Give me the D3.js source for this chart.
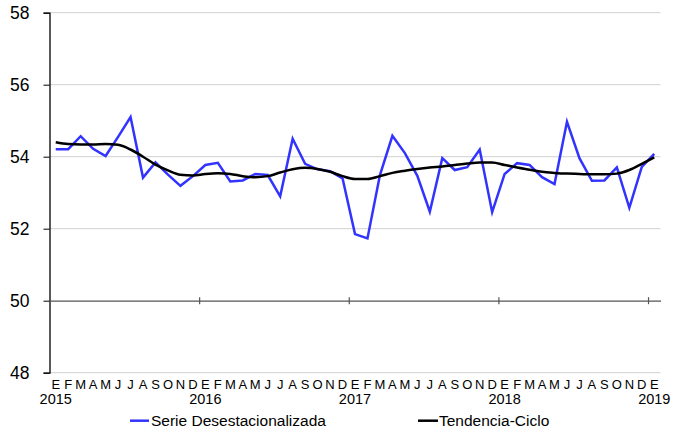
<!DOCTYPE html>
<html><head><meta charset="utf-8">
<script src="https://cdn.jsdelivr.net/npm/d3@7"></script>
<style>body{margin:0;background:#fff}svg{display:block}text{font-family:"Liberation Sans",Arial,sans-serif;fill:#000}</style>
</head><body><svg id="c" width="673" height="433"></svg>
<script>
const monthLetters = ["E","F","M","A","M","J","J","A","S","O","N","D"];
const years = [2015, 2016, 2017, 2018, 2019];
const yTicks = [48, 50, 52, 54, 56, 58];
const serieDesestacionalizada = [
  54.21, 54.21, 54.57, 54.22, 54.02, 54.55, 55.10, 53.42, 53.84, 53.50, 53.19, 53.46,
  53.77, 53.83, 53.31, 53.34, 53.52, 53.49, 52.90, 54.50, 53.80, 53.65, 53.60, 53.40,
  51.85, 51.73, 53.49, 54.58, 54.10, 53.47, 52.47, 53.96, 53.63, 53.71, 54.20, 52.46,
  53.52, 53.82, 53.77, 53.43, 53.24, 54.97, 53.96, 53.33, 53.34, 53.70, 52.58, 53.72,
  54.08
];
const tendenciaCiclo = [
  54.40, 54.35, 54.34, 54.34, 54.35, 54.33, 54.20, 54.00, 53.78, 53.62, 53.50, 53.48,
  53.52, 53.54, 53.52, 53.46, 53.43, 53.46, 53.56, 53.65, 53.69, 53.66, 53.58, 53.46,
  53.38, 53.38, 53.46, 53.55, 53.61, 53.66, 53.70, 53.73, 53.77, 53.81, 53.84, 53.84,
  53.77, 53.70, 53.64, 53.58, 53.55, 53.53, 53.52, 53.51, 53.51, 53.53, 53.63, 53.80,
  53.98
];
const legendLabels = ["Serie Desestacionalizada", "Tendencia-Ciclo"];

(function () {
const n = serieDesestacionalizada.length;
const idx = d3.range(n);
const svg = d3.select("#c");
const mLeft = 49.5, mRight = 660.5, mTop = 12.7, mBottom = 372.7;

const x = d3.scaleBand().domain(idx).range([mLeft, mRight]).padding(0);
const y = d3.scaleLinear().domain([48, 58]).range([mBottom, mTop]);
const cx = i => x(i) + x.bandwidth() / 2;

// gridlines
svg.append("g").selectAll("line").data(yTicks.filter(t => t !== 50)).join("line")
  .attr("x1", mLeft).attr("x2", mRight)
  .attr("y1", d => y(d)).attr("y2", d => y(d))
  .attr("stroke", "#d9d9d9").attr("stroke-width", 1.3);

// y axis
const yAxis = svg.append("g").attr("transform", `translate(${mLeft},0)`)
  .call(d3.axisLeft(y).tickValues(yTicks).tickSize(6).tickPadding(14).tickFormat(d3.format("d")));
yAxis.select(".domain").attr("stroke", "#000").attr("stroke-width", 1.3);
yAxis.selectAll(".tick line").attr("stroke", "#000");
yAxis.selectAll(".tick text").attr("font-size", 17.5).attr("font-family", '"Liberation Sans",Arial,sans-serif').attr("fill", "#000");

// baseline at 50 with year ticks
const yearTickPos = d3.range(12, n, 12).map(i => x(i));
const base = svg.append("g").attr("transform", `translate(0,${y(50)})`)
  .call(d3.axisBottom(d3.scaleLinear().domain([mLeft, mRight]).range([mLeft, mRight]))
    .tickValues(yearTickPos).tickSize(0).tickFormat(""));
base.select(".domain").attr("stroke", "#555").attr("stroke-width", 1.3);
base.selectAll(".tick line").attr("y1", -3.5).attr("y2", 3.5).attr("stroke", "#555").attr("stroke-width", 1.2);

// month labels
svg.append("g").selectAll("text").data(idx).join("text")
  .attr("x", i => cx(i)).attr("y", 388.5).attr("text-anchor", "middle")
  .attr("font-size", 13).text(i => monthLetters[i % 12]);

// year labels
svg.append("g").selectAll("text").data(years).join("text")
  .attr("x", (d, k) => cx(k * 12)).attr("y", 404).attr("text-anchor", "middle")
  .attr("font-size", 14.5).text(d => d);

// lines
const lineSerie = d3.line().x(i => cx(i)).y(i => y(serieDesestacionalizada[i]));
svg.append("path").attr("d", lineSerie(idx)).attr("fill", "none")
  .attr("stroke", "#3333ff").attr("stroke-width", 2.5).attr("stroke-linejoin", "miter");
const lineTend = d3.line().x(i => cx(i)).y(i => y(tendenciaCiclo[i])).curve(d3.curveMonotoneX);
svg.append("path").attr("d", lineTend(idx)).attr("fill", "none")
  .attr("stroke", "#000").attr("stroke-width", 2.5);

// legend
const legend = [{x1: 130, x2: 149, tx: 151, color: "#3333ff", label: legendLabels[0]},
                {x1: 418, x2: 438, tx: 439, color: "#000", label: legendLabels[1]}];
const lg = svg.append("g").selectAll("g").data(legend).join("g");
lg.append("line").attr("x1", d => d.x1).attr("x2", d => d.x2).attr("y1", 420.7).attr("y2", 420.7)
  .attr("stroke", d => d.color).attr("stroke-width", 2.5);
lg.append("text").attr("x", d => d.tx).attr("y", 426).attr("font-size", 15.5).text(d => d.label);
})();
</script></body></html>
